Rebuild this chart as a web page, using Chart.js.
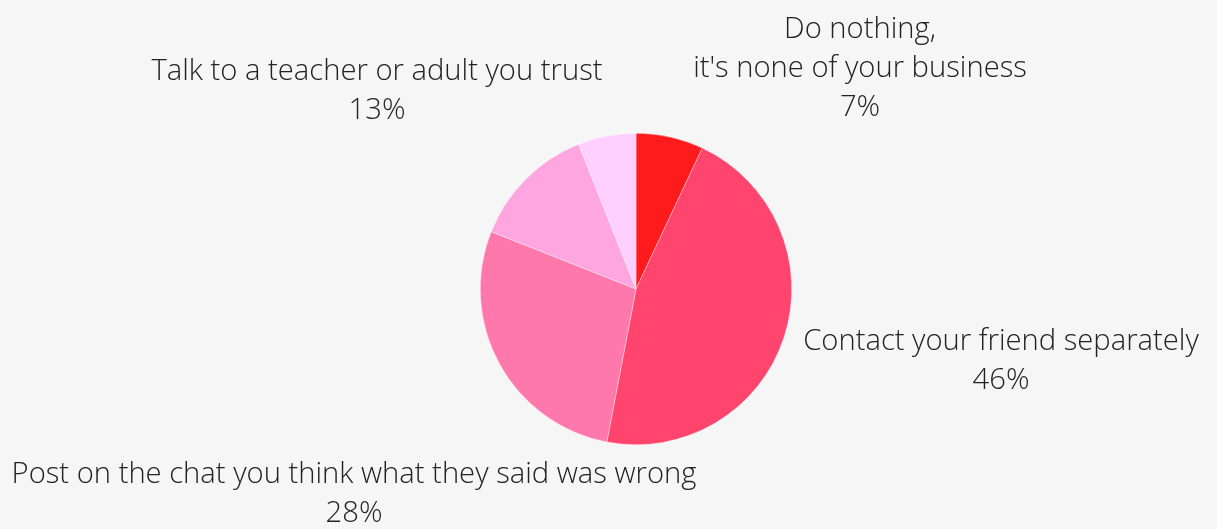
<!DOCTYPE html>
<html lang="en">
<head>
    <meta charset="UTF-8">
    <title>Responses pie</title>
    <script src="https://cdn.jsdelivr.net/npm/chart.js"></script>
    <style>
        html, body {
            margin: 0;
            padding: 0;
            background-color: #f6f6f6;
        }
        #wrap {
            width: 1217px;
            height: 529px;
        }
    </style>
</head>
<body>
    <div id="wrap"><canvas id="pie" width="1217" height="529"></canvas></div>

    <script>
        // Answers, clockwise from 12 o'clock
        const answers = [
            ['Do nothing,', "it's none of your business"],
            ['Contact your friend separately'],
            ['Post on the chat you think what they said was wrong'],
            ['Talk to a teacher or adult you trust'],
            ['Other']
        ];
        const shares = [7, 46, 28, 13, 6];
        const sliceColors = ['#ff1a1c', '#ff456d', '#ff78ac', '#ffa6e0', '#ffd0ff'];
        const showLabel = [true, true, true, true, false];

        // where each caption sits (centre of its first line) and how wide it may get
        const captionSpots = [
            { x: 860, y: 30, maxW: null },
            { x: 1001, y: 342, maxW: null },
            { x: 354, y: 475, maxW: 688 },
            { x: 377, y: 72, maxW: null }
        ];
        const lineGap = 39;

        const captions = {
            id: 'captions',
            afterDraw(chart) {
                const ctx = chart.ctx;
                ctx.save();
                ctx.fillStyle = '#222';
                ctx.font = '300 29.2px "Open Sans"';
                ctx.textAlign = 'center';
                ctx.textBaseline = 'middle';
                answers.forEach((lines, i) => {
                    if (!showLabel[i]) return;
                    const spot = captionSpots[i];
                    const all = lines.concat([shares[i] + '%']);
                    all.forEach((txt, k) => {
                        const y = spot.y + k * lineGap;
                        if (spot.maxW && k < lines.length) {
                            ctx.fillText(txt, spot.x, y, spot.maxW);
                        } else {
                            ctx.fillText(txt, spot.x, y);
                        }
                    });
                });
                ctx.restore();
            }
        };

        new Chart(document.getElementById('pie'), {
            type: 'pie',
            data: {
                labels: answers.map(a => a.join(' ')),
                datasets: [{
                    data: shares,
                    backgroundColor: sliceColors,
                    borderColor: 'rgba(255,255,255,0.6)',
                    borderWidth: 0.6
                }]
            },
            options: {
                responsive: false,
                animation: false,
                layout: {
                    padding: { top: 133, bottom: 84, left: 55, right: 0 }
                },
                plugins: {
                    legend: { display: false },
                    tooltip: { enabled: false }
                }
            },
            plugins: [captions]
        });
    </script>
</body>
</html>
